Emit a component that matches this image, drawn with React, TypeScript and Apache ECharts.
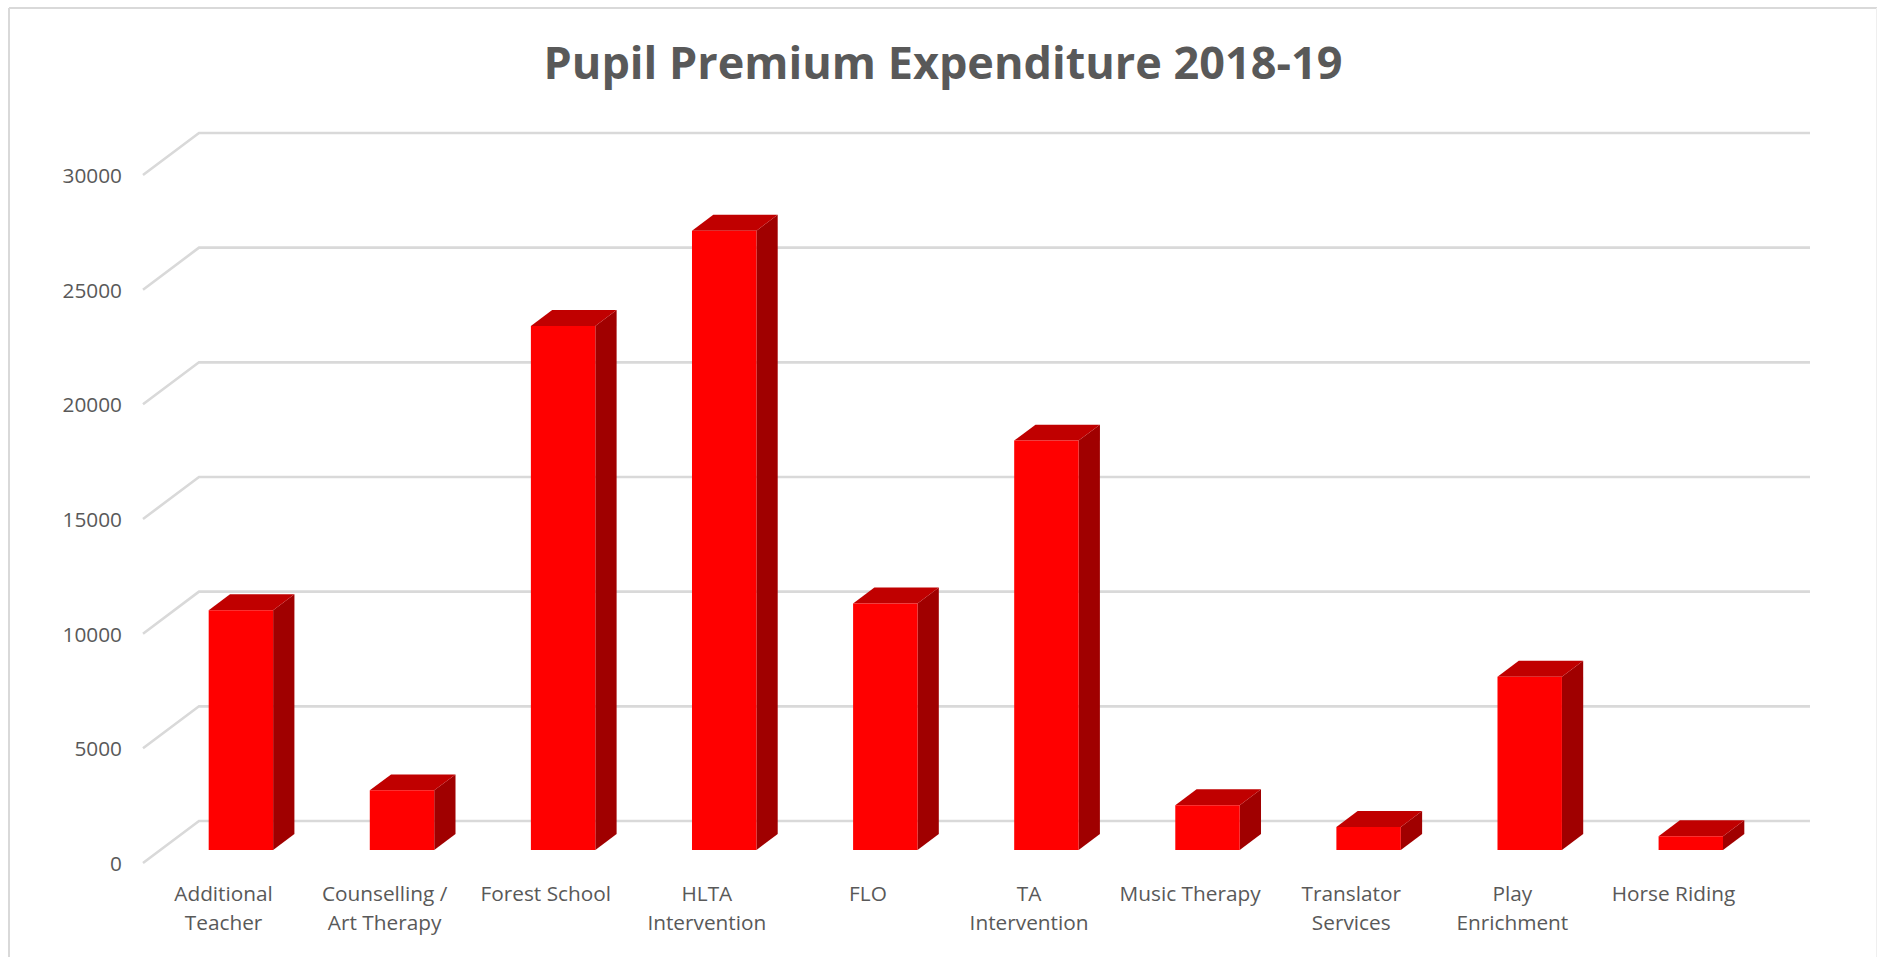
import React, { useEffect, useRef } from "react";
import * as echarts from "echarts";

const titleText = "Pupil Premium Expenditure 2018-19";
const categories = [
  "Additional\nTeacher",
  "Counselling /\nArt Therapy",
  "Forest School",
  "HLTA\nIntervention",
  "FLO",
  "TA\nIntervention",
  "Music Therapy",
  "Translator\nServices",
  "Play\nEnrichment",
  "Horse Riding",
];
const values = [10450, 2600, 22850, 27000, 10750, 17850, 1950, 1000, 7550, 600];
const gridValues = [0, 5000, 10000, 15000, 20000, 25000, 30000];

const FONT = "Open Sans";
const TEXT = "#595959";
const LINE = "#d9d9d9";
const DX = 56;
const DY = -42;
const Z0 = 0.31;
const Z1 = 0.69;
const BAR_RATIO = 0.4;

export default function App() {
  const ref = useRef<HTMLDivElement>(null);
  useEffect(() => {
    const chart = echarts.init(ref.current!, null, { renderer: "svg" });
    const project = (p: number[], z: number) => [p[0] + DX * z, p[1] + DY * z];
    chart.setOption({
      animation: false,
      backgroundColor: "#ffffff",
      title: {
        text: titleText,
        left: 938,
        top: 34,
        textAlign: "center",
        textStyle: { fontFamily: FONT, fontWeight: 700, fontSize: 45, color: TEXT },
      },
      grid: { left: 143, top: 175, width: 1611, height: 688 },
      xAxis: {
        type: "category",
        data: categories,
        axisLine: { show: false },
        axisTick: { show: false },
        splitLine: { show: false },
        axisLabel: {
          interval: 0,
          margin: 15,
          fontFamily: FONT,
          fontSize: 20.8,
          lineHeight: 29,
          color: TEXT,
        },
      },
      yAxis: {
        type: "value",
        min: 0,
        max: 30000,
        interval: 5000,
        axisLine: { show: false },
        axisTick: { show: false },
        splitLine: { show: false },
        axisLabel: {
          margin: 21,
          fontFamily: FONT,
          fontSize: 20.8,
          color: TEXT,
          formatter: (v: number) => String(v),
        },
      },
      graphic: [
        { type: "line", shape: { x1: 9, y1: 8, x2: 9, y2: 957 }, style: { stroke: LINE, lineWidth: 2 } },
        { type: "line", shape: { x1: 9, y1: 8, x2: 1877, y2: 8 }, style: { stroke: LINE, lineWidth: 2 } },
        { type: "line", shape: { x1: 1876.5, y1: 8, x2: 1876.5, y2: 957 }, style: { stroke: "#efefef", lineWidth: 1 } },
      ],
      series: [
        {
          type: "custom",
          silent: true,
          clip: false,
          z: 1,
          data: gridValues.map((v) => [0, v]),
          encode: { x: 0, y: 1 },
          renderItem: (params: any, api: any) => {
            const y = api.coord([0, api.value(1)])[1];
            const cs = params.coordSys;
            return {
              type: "polyline",
              shape: {
                points: [
                  [cs.x, y],
                  [cs.x + DX, y + DY],
                  [cs.x + cs.width + DX, y + DY],
                ],
              },
              style: { stroke: LINE, lineWidth: 2.6, fill: "none" },
            };
          },
        },
        {
          type: "custom",
          silent: true,
          clip: false,
          z: 2,
          data: values.map((v, i) => [i, v]),
          encode: { x: 0, y: 1 },
          renderItem: (_params: any, api: any) => {
            const i = api.value(0);
            const top = api.coord([i, api.value(1)]);
            const base = api.coord([i, 0]);
            const half = (api.size([1, 0])[0] * BAR_RATIO) / 2;
            const pt = (x: number, y: number, z: number) => project([x, y], z);
            const l = top[0] - half;
            const r = top[0] + half;
            return {
              type: "group",
              children: [
                {
                  type: "polygon",
                  shape: { points: [pt(r, base[1], Z0), pt(r, base[1], Z1), pt(r, top[1], Z1), pt(r, top[1], Z0)] },
                  style: { fill: "#a00000" },
                },
                {
                  type: "polygon",
                  shape: { points: [pt(l, top[1], Z0), pt(r, top[1], Z0), pt(r, top[1], Z1), pt(l, top[1], Z1)] },
                  style: { fill: "#c00000" },
                },
                {
                  type: "polygon",
                  shape: { points: [pt(l, base[1], Z0), pt(r, base[1], Z0), pt(r, top[1], Z0), pt(l, top[1], Z0)] },
                  style: { fill: "#ff0000" },
                },
              ],
            };
          },
        },
      ],
    });
    return () => chart.dispose();
  }, []);
  return <div ref={ref} style={{ position: "fixed", left: 0, top: 0, width: 1877, height: 957 }} />;
}
